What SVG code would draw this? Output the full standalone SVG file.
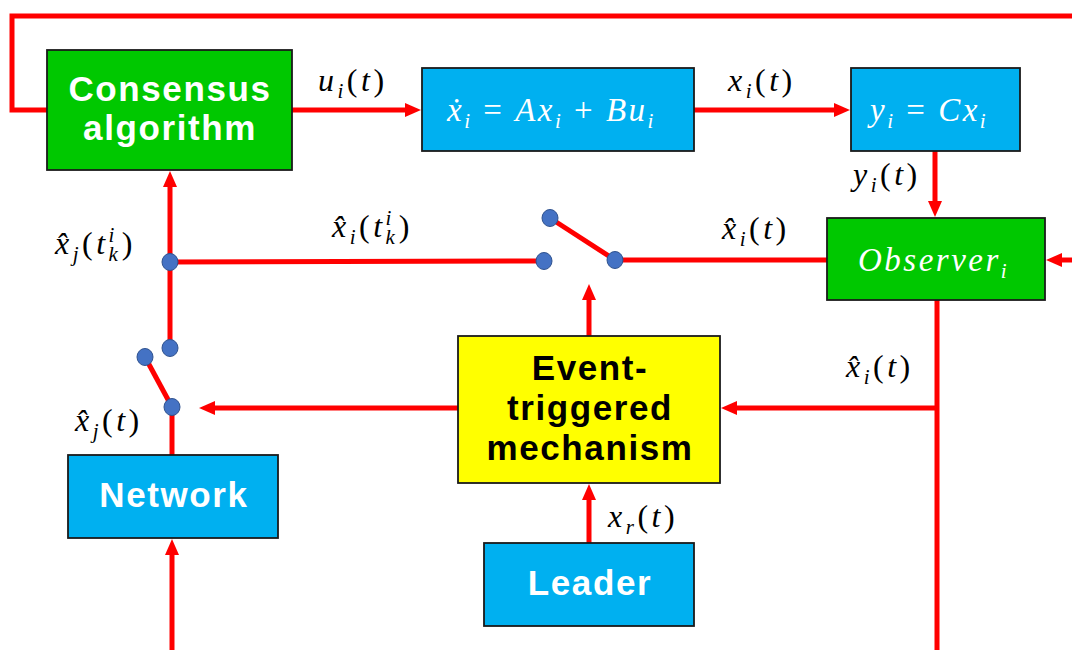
<svg xmlns="http://www.w3.org/2000/svg" width="1072" height="650" viewBox="0 0 1072 650">
<defs>
<marker id="ah" viewBox="0 0 16 14" markerWidth="16" markerHeight="14" refX="1" refY="7" orient="auto" markerUnits="userSpaceOnUse">
<path d="M0,0 L16,7 L0,14 z" fill="#ff0000"/>
</marker>
</defs>
<style>
.w{stroke:#ff0000;stroke-width:5;fill:none}
.a{marker-end:url(#ah)}
.box{stroke:#1a1a1a;stroke-width:1.8}
.g{fill:#00c800}
.b{fill:#00b0f0}
.y{fill:#ffff00}
.bt{font-family:"Liberation Sans",Arial,sans-serif;font-weight:bold;font-size:35px;letter-spacing:1.6px;text-anchor:middle}
.wt{fill:#ffffff}
.kt{fill:#000000}
.m{font-family:"Liberation Serif","DejaVu Serif",serif;font-size:32px;letter-spacing:3.5px;fill:#000}
.mw{font-family:"Liberation Serif","DejaVu Serif",serif;font-size:33px;letter-spacing:2.5px;fill:#fff}
.i{font-style:italic}
.s{font-size:21px;font-style:italic}
.dot{fill:#4472c4;stroke:#2f528f;stroke-width:1}
</style>
<g id="connectors">
<polyline class="w" points="1072,16 12,16 12,110 47,110"/>
<line class="w a" x1="292" y1="110" x2="406" y2="110"/>
<line class="w a" x1="694" y1="110" x2="835" y2="110"/>
<line class="w a" x1="935" y1="151" x2="935" y2="202"/>
<line class="w a" x1="1072" y1="260" x2="1061" y2="260"/>
<line class="w" x1="827" y1="260" x2="615" y2="260"/>
<line class="w" x1="615" y1="260" x2="550" y2="218"/>
<line class="w" x1="544" y1="261" x2="170" y2="262"/>
<line class="w a" x1="170" y1="348" x2="170" y2="186"/>
<line class="w" x1="145" y1="357" x2="172" y2="407"/>
<line class="w" x1="172" y1="407" x2="172" y2="455"/>
<line class="w a" x1="172" y1="650" x2="172" y2="554"/>
<line class="w a" x1="589" y1="336" x2="589" y2="299"/>
<line class="w a" x1="458" y1="408" x2="214" y2="408"/>
<line class="w" x1="937" y1="300" x2="937" y2="650"/>
<line class="w a" x1="937" y1="408" x2="736" y2="408"/>
<line class="w a" x1="589" y1="543" x2="589" y2="499"/>
</g>
<g id="switch-dots">
<ellipse class="dot" cx="170" cy="262" rx="8" ry="8.5"/>
<ellipse class="dot" cx="544" cy="261" rx="8" ry="8.5"/>
<ellipse class="dot" cx="550" cy="218" rx="8" ry="8.5"/>
<ellipse class="dot" cx="615" cy="260" rx="8" ry="8.5"/>
<ellipse class="dot" cx="170" cy="348" rx="8" ry="8.5"/>
<ellipse class="dot" cx="145" cy="357" rx="8" ry="8.5"/>
<ellipse class="dot" cx="172" cy="407" rx="8" ry="8.5"/>
</g>
<g id="consensus">
<rect class="box g" x="47" y="50" width="245" height="120"/>
<text class="bt wt" x="170" y="101">Consensus</text>
<text class="bt wt" x="170" y="140">algorithm</text>
</g>
<g id="dynamics">
<rect class="box b" x="422" y="68" width="272" height="83"/>
<text class="mw" x="447" y="121"><tspan class="i">ẋ</tspan><tspan class="s" dy="7">i</tspan><tspan dy="-7"> = </tspan><tspan class="i">Ax</tspan><tspan class="s" dy="7">i</tspan><tspan dy="-7"> + </tspan><tspan class="i">Bu</tspan><tspan class="s" dy="7">i</tspan></text>
</g>
<g id="output">
<rect class="box b" x="851" y="68" width="169" height="83"/>
<text class="mw" x="870" y="121"><tspan class="i">y</tspan><tspan class="s" dy="7">i</tspan><tspan dy="-7"> = </tspan><tspan class="i">Cx</tspan><tspan class="s" dy="7">i</tspan></text>
</g>
<g id="observer">
<rect class="box g" x="827" y="218" width="218" height="82"/>
<text class="mw" x="858" y="271"><tspan class="i">Observer</tspan><tspan class="s" dy="7">i</tspan></text>
</g>
<g id="event">
<rect class="box y" x="458" y="336" width="262" height="147"/>
<text class="bt kt" x="590" y="380">Event-</text>
<text class="bt kt" x="590" y="420">triggered</text>
<text class="bt kt" x="590" y="460">mechanism</text>
</g>
<g id="network">
<rect class="box b" x="68" y="455" width="210" height="83"/>
<text class="bt wt" x="174" y="507">Network</text>
</g>
<g id="leader">
<rect class="box b" x="484" y="543" width="210" height="83"/>
<text class="bt wt" x="590" y="595">Leader</text>
</g>
<g id="labels">
<text class="m" x="318" y="91"><tspan class="i">u</tspan><tspan class="s" dy="7">i</tspan><tspan dy="-7">(</tspan><tspan class="i">t</tspan>)</text>
<text class="m" x="728" y="91"><tspan class="i">x</tspan><tspan class="s" dy="7">i</tspan><tspan dy="-7">(</tspan><tspan class="i">t</tspan>)</text>
<text class="m" x="853" y="185"><tspan class="i">y</tspan><tspan class="s" dy="7">i</tspan><tspan dy="-7">(</tspan><tspan class="i">t</tspan>)</text>
<text class="m" x="722" y="239"><tspan class="i">x̂</tspan><tspan class="s" dy="7">i</tspan><tspan dy="-7">(</tspan><tspan class="i">t</tspan>)</text>
<text class="m" x="846" y="377"><tspan class="i">x̂</tspan><tspan class="s" dy="7">i</tspan><tspan dy="-7">(</tspan><tspan class="i">t</tspan>)</text>
<text class="m" x="608" y="527"><tspan class="i">x</tspan><tspan class="s" dy="7">r</tspan><tspan dy="-7">(</tspan><tspan class="i">t</tspan>)</text>
<text class="m" x="75" y="431"><tspan class="i">x̂</tspan><tspan class="s" dy="7">j</tspan><tspan dy="-7">(</tspan><tspan class="i">t</tspan>)</text>
<text class="m" x="332" y="237"><tspan class="i">x̂</tspan><tspan class="s" dy="7">i</tspan><tspan dy="-7">(</tspan><tspan class="i">t</tspan><tspan class="s" dy="7">k</tspan><tspan class="s" dx="-13" dy="-19">i</tspan><tspan dx="4" dy="12">)</tspan></text>
<text class="m" x="55" y="254"><tspan class="i">x̂</tspan><tspan class="s" dy="7">j</tspan><tspan dy="-7">(</tspan><tspan class="i">t</tspan><tspan class="s" dy="7">k</tspan><tspan class="s" dx="-13" dy="-19">i</tspan><tspan dx="4" dy="12">)</tspan></text>
</g>
</svg>
